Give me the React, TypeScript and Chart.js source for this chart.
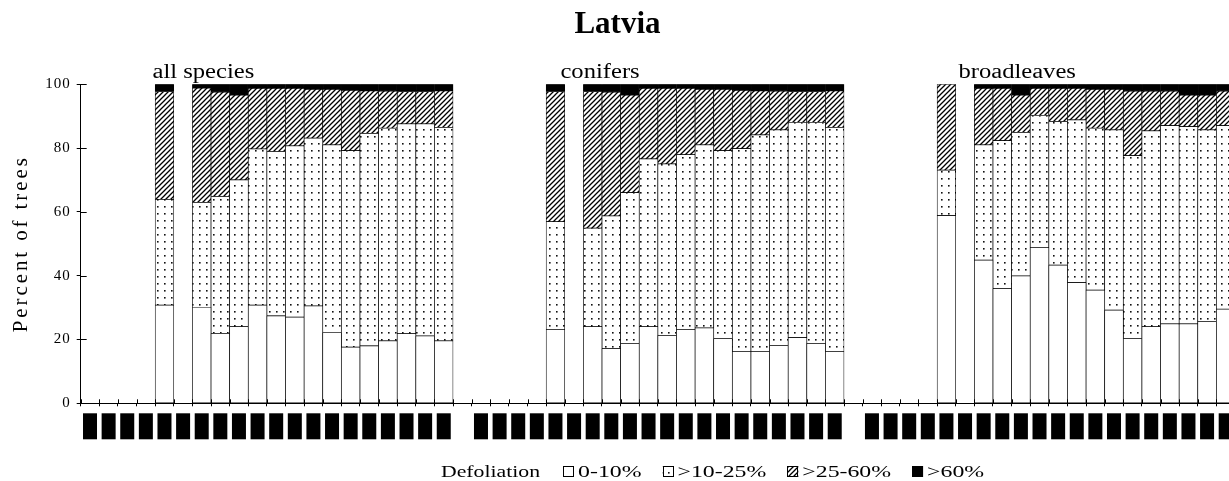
import React, { useEffect, useRef } from 'react';
import { Chart, registerables } from 'chart.js';

Chart.register(...registerables);

// ---------- data ----------
const years = ['1987', '1988', '1989', '1990', '1991', '1992', '1993', '1994', '1995', '1996',
  '1997', '1998', '1999', '2000', '2001', '2002', '2003', '2004', '2005', '2006'];
const groupNames = ['all species', 'conifers', 'broadleaves'];
const classNames = ['0-10%', '>10-25%', '>25-60%', '>60%'];
const legendTitle = 'Defoliation';
const yTitle = 'Percent of trees';
const chartTitle = 'Latvia';

const allSpecies0to10 = [null, null, null, null, 30.8, null, 30.1, 21.9, 24.0, 30.8, 27.4, 27.0, 30.5, 22.2, 17.6, 18.0, 19.6, 21.8, 21.1, 19.6];
const allSpecies10to25 = [null, null, null, null, 33.1, null, 32.9, 42.9, 46.0, 48.9, 51.5, 53.7, 52.6, 58.8, 61.6, 66.6, 66.6, 65.8, 66.5, 66.9];
const allSpecies25to60 = [null, null, null, null, 33.8, null, 35.8, 32.7, 26.6, 19.0, 19.8, 18.0, 15.3, 17.4, 18.9, 13.3, 11.6, 10.1, 10.1, 11.4];
const allSpeciesOver60 = [null, null, null, null, 2.3, null, 1.2, 2.5, 3.4, 1.3, 1.3, 1.3, 1.6, 1.6, 1.9, 2.1, 2.2, 2.3, 2.3, 2.1];

const conifers0to10 = [null, null, null, null, 23.2, null, 24.0, 17.1, 18.8, 24.0, 21.3, 23.2, 23.6, 20.3, 16.3, 16.3, 18.1, 20.6, 18.8, 16.3];
const conifers10to25 = [null, null, null, null, 33.7, null, 30.9, 41.6, 47.2, 52.6, 53.7, 54.7, 57.4, 58.9, 63.5, 67.8, 67.6, 67.4, 69.2, 70.2];
const conifers25to60 = [null, null, null, null, 40.8, null, 42.8, 38.8, 30.6, 22.1, 23.7, 20.8, 17.4, 19.2, 18.3, 13.8, 12.1, 9.7, 9.7, 11.4];
const conifersOver60 = [null, null, null, null, 2.3, null, 2.3, 2.5, 3.4, 1.3, 1.3, 1.3, 1.6, 1.6, 1.9, 2.1, 2.2, 2.3, 2.3, 2.1];

const broadleaves0to10 = [null, null, null, null, 58.8, null, 44.9, 35.9, 39.9, 48.9, 43.3, 37.8, 35.5, 29.2, 20.3, 24.0, 24.9, 24.9, 25.7, 29.5];
const broadleaves10to25 = [null, null, null, null, 14.3, null, 36.1, 46.4, 45.0, 41.3, 45.0, 51.0, 50.7, 56.5, 57.3, 61.4, 62.1, 61.8, 60.0, 57.5];
const broadleaves25to60 = [null, null, null, null, 26.9, null, 17.7, 16.4, 11.7, 8.5, 10.4, 9.9, 12.2, 12.7, 20.2, 12.4, 10.8, 9.9, 10.9, 10.8];
const broadleavesOver60 = [null, null, null, null, null, null, 1.3, 1.3, 3.4, 1.3, 1.3, 1.3, 1.6, 1.6, 2.2, 2.2, 2.2, 3.4, 3.4, 2.2];

const yTicks = [0, 20, 40, 60, 80, 100];

// ---------- helpers ----------
const join = (a: (number | null)[], b: (number | null)[], c: (number | null)[]) => [...a, null, ...b, null, ...c];
const labels = [...years, '', ...years, '', ...years];
const groupStarts = [0, years.length + 1, 2 * (years.length + 1)];

function makeDots(): CanvasPattern | string {
  const c = document.createElement('canvas');
  c.width = 7; c.height = 7;
  const g = c.getContext('2d');
  if (!g) return '#fff';
  g.fillStyle = '#fff'; g.fillRect(0, 0, 7, 7);
  g.fillStyle = '#111'; g.fillRect(3, 3, 1.6, 1.6);
  return g.createPattern(c, 'repeat') || '#fff';
}
function makeHatch(): CanvasPattern | string {
  const s = 5;
  const c = document.createElement('canvas');
  c.width = s; c.height = s;
  const g = c.getContext('2d');
  if (!g) return '#888';
  g.fillStyle = '#fff'; g.fillRect(0, 0, s, s);
  g.strokeStyle = '#000'; g.lineWidth = 1.3;
  g.beginPath();
  g.moveTo(0, s); g.lineTo(s, 0);
  g.moveTo(-1, 1); g.lineTo(1, -1);
  g.moveTo(s - 1, s + 1); g.lineTo(s + 1, s - 1);
  g.stroke();
  return g.createPattern(c, 'repeat') || '#888';
}

const groupLabelPlugin = {
  id: 'groupLabels',
  afterDraw(chart: any) {
    const ctx = chart.ctx; const xs = chart.scales.x; const ca = chart.chartArea;
    const dx = [-12, 5, 12];
    ctx.save();
    ctx.font = '20px "Liberation Serif"';
    ctx.fillStyle = '#000'; ctx.textAlign = 'left'; ctx.textBaseline = 'alphabetic';
    groupNames.forEach((name, i) => {
      const x = xs.getPixelForValue(groupStarts[i] + 4) + dx[i];
      ctx.save(); ctx.translate(x, ca.top - 6); ctx.scale(1.23, 1); ctx.fillText(name, 0, 0); ctx.restore();
    });
    ctx.restore();
  },
};

const innerTicksPlugin = {
  id: 'innerTicks',
  afterDatasetsDraw(chart: any) {
    const ctx = chart.ctx; const xs = chart.scales.x; const ys = chart.scales.y; const ca = chart.chartArea;
    ctx.save();
    ctx.strokeStyle = '#000'; ctx.lineWidth = 1;
    ctx.beginPath();
    ys.ticks.forEach((_t: any, i: number) => {
      const py = Math.round(ys.getPixelForTick(i)) + 0.5;
      ctx.moveTo(ca.left, py); ctx.lineTo(ca.left + 6, py);
    });
    const half = (xs.getPixelForValue(1) - xs.getPixelForValue(0)) / 2;
    for (let i = 0; i <= labels.length; i++) {
      const px = Math.round(xs.getPixelForValue(i) - half) + 0.5;
      ctx.moveTo(px, ca.bottom); ctx.lineTo(px, ca.bottom - 4);
    }
    ctx.stroke();
    ctx.restore();
  },
};

const legendPlugin = {
  id: 'customLegend',
  afterDraw(chart: any) {
    const ctx = chart.ctx;
    const base = 477; const box = 11; const boxTop = 466;
    let x = 441;
    ctx.save();
    ctx.font = '17px "Liberation Serif"';
    ctx.textBaseline = 'alphabetic'; ctx.textAlign = 'left';
    const drawText = (t: string, sx: number) => {
      ctx.fillStyle = '#000';
      ctx.save(); ctx.translate(x, base); ctx.scale(sx, 1); ctx.fillText(t, 0, 0); ctx.restore();
      x += ctx.measureText(t).width * sx;
    };
    drawText(legendTitle, 1.28);
    x += 23;
    chart.data.datasets.forEach((ds: any) => {
      ctx.fillStyle = ds.backgroundColor;
      ctx.fillRect(x, boxTop, box, box);
      ctx.strokeStyle = '#000'; ctx.lineWidth = 1;
      ctx.strokeRect(Math.round(x) + 0.5, boxTop + 0.5, box - 1, box - 1);
      x += box + 4;
      drawText(ds.label, 1.4);
      x += 21;
    });
    ctx.restore();
  },
};

function withSpacing(scale: any, method: string, spacing: string) {
  if (scale['__patched_' + method]) return;
  const orig = scale[method];
  scale[method] = function (...args: any[]) {
    const ctx = this.ctx;
    ctx.save();
    try { (ctx as any).letterSpacing = spacing; } catch (e) { /* ignore */ }
    const r = orig.apply(this, args);
    ctx.restore();
    return r;
  };
  scale['__patched_' + method] = true;
}

export default function App() {
  const ref = useRef<HTMLCanvasElement>(null);
  useEffect(() => {
    if (!ref.current) return;
    const fills = ['#ffffff', makeDots(), makeHatch(), '#000000'];
    const series = [
      join(allSpecies0to10, conifers0to10, broadleaves0to10),
      join(allSpecies10to25, conifers10to25, broadleaves10to25),
      join(allSpecies25to60, conifers25to60, broadleaves25to60),
      join(allSpeciesOver60, conifersOver60, broadleavesOver60),
    ];
    const chart = new Chart(ref.current, {
      type: 'bar',
      data: {
        labels,
        datasets: series.map((d, i) => ({
          label: classNames[i],
          data: d,
          backgroundColor: fills[i] as any,
          borderColor: '#000',
          borderWidth: 0.7,
          borderSkipped: false,
          barPercentage: 1,
          categoryPercentage: 1,
          stack: 's',
        })),
      },
      options: {
        responsive: false,
        animation: false,
        events: [],
        layout: { padding: { left: 0, right: 0, top: 0, bottom: 37.7 } },
        plugins: {
          legend: { display: false },
          tooltip: { enabled: false },
          title: {
            display: true,
            text: chartTitle,
            color: '#000',
            font: { family: '"Liberation Serif"', size: 31, weight: 'bold' },
            padding: { top: 6, bottom: 41 },
          },
        },
        scales: {
          x: {
            stacked: true,
            offset: true,
            afterFit: (s: any) => { s.height = 40; s.paddingLeft = 0; s.paddingRight = 0; },
            grid: { display: true, drawOnChartArea: false, drawTicks: true, tickLength: 3, color: '#000', offset: true },
            border: { display: true, color: '#000', width: 1 },
            ticks: {
              autoSkip: false,
              maxRotation: 90,
              minRotation: 90,
              padding: 10,
              color: '#000',
              font: { family: '"Liberation Serif"', size: 10, lineHeight: 0 },
              showLabelBackdrop: true,
              backdropColor: (c: any) => (c.tick && c.tick.label ? '#000' : 'rgba(0,0,0,0)'),
              backdropPadding: { top: 7, bottom: 7, left: 3, right: 3 },
            },
          },
          y: {
            stacked: true,
            min: 0,
            max: 100,
            afterFit: (s: any) => {
              s.width = 80.7;
              withSpacing(s, 'drawTitle', '2.9px');
              withSpacing(s, 'drawLabels', '1px');
            },
            afterBuildTicks: (s: any) => { s.ticks = yTicks.map((v) => ({ value: v })); },
            grid: { drawOnChartArea: false, drawTicks: true, tickLength: 4, color: '#000' },
            border: { display: true, color: '#000', width: 1 },
            ticks: { color: '#000', padding: 6, font: { family: '"Liberation Serif"', size: 15 } },
            title: {
              display: true,
              text: yTitle,
              color: '#000',
              font: { family: '"Liberation Serif"', size: 21 },
              padding: { top: 9, bottom: 0 },
            },
          },
        },
      },
      plugins: [innerTicksPlugin, groupLabelPlugin, legendPlugin],
    } as any);
    return () => chart.destroy();
  }, []);
  return (
    <div style={{ position: 'fixed', left: 0, top: 0, width: 1229, height: 481, overflow: 'hidden', background: '#fff' }}>
      <canvas ref={ref} width={1235} height={481} style={{ display: 'block' }} />
    </div>
  );
}
